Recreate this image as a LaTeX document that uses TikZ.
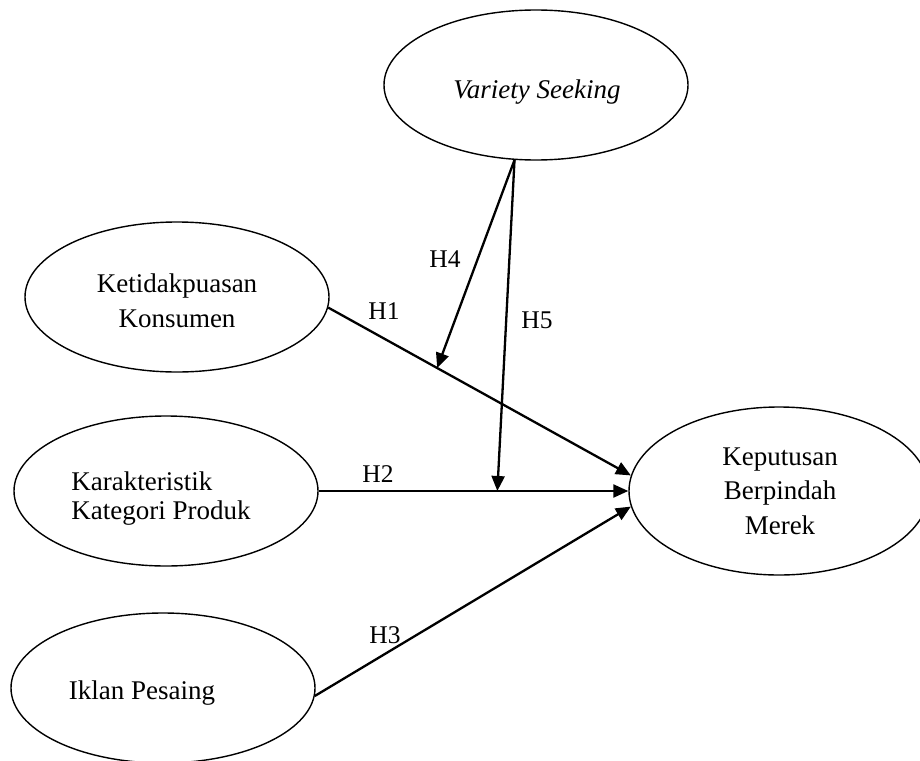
\documentclass[tikz,border=0pt]{standalone}
\usepackage{fontspec}
\setmainfont{Liberation Serif}
\usetikzlibrary{arrows.meta,calc,shapes.geometric}
\begin{document}
\begin{tikzpicture}[x=1pt,y=-1pt,
  oval/.style={draw,ellipse,line width=1.4pt,inner sep=0pt,minimum width=304pt,minimum height=150pt},
  txt/.style={inner sep=0pt,font=\fontsize{27}{34.5}\selectfont},
  lbl/.style={inner sep=0pt,anchor=base,font=\fontsize{25.5}{30}\selectfont},
  conn/.style={line width=2.3pt,-{Triangle[length=15pt,width=13pt]}}]
\useasboundingbox (0,0) rectangle (920,760);
% ellipses
\node[oval] (vs) at (536,85) {};
\node[oval] (ket) at (177,297) {};
\node[oval] (kar) at (166,491) {};
\node[oval] (ikl) at (163,688) {};
\node[oval,minimum width=300pt,minimum height=168pt] (kep) at (779,491) {};
% texts
\node[txt,anchor=base] (tvs) at (537,98) {\itshape Variety Seeking};
\node[txt,align=center] (tket) at (177,301) {Ketidakpuasan\\Konsumen};
\node[txt,align=left,font=\fontsize{27}{29}\selectfont] (tkar) at (161,499) {Karakteristik\\Kategori Produk};
\node[txt,anchor=base] (tikl) at (142,699) {Iklan Pesaing};
\node[txt,align=center] (tkep) at (780,491) {Keputusan\\Berpindah\\Merek};
% connectors
\coordinate (s1) at (ket.-4);
\coordinate (e1) at (kep.174);
\coordinate (s3) at (ikl.-3);
\coordinate (e3) at (kep.-174);
\coordinate (vsb) at (vs.-106);
\draw[conn] (s1) -- (e1);
\draw[conn] (kar.east) -- (kep.west);
\draw[conn] (s3) -- (e3);
\coordinate (h4end) at ($(s1)!0.36!(e1)$);
\coordinate (h5end) at ($(kar.east)!0.577!(kep.west)$);
\draw[conn] (vsb) -- (h4end);
\draw[conn] (vsb) -- (h5end);
% labels
\node[lbl] (l1) at (384,319) {H1};
\node[lbl] (l2) at (378,482) {H2};
\node[lbl] (l3) at (385,643) {H3};
\node[lbl] (l4) at (445,267) {H4};
\node[lbl] (l5) at (537,328) {H5};
\end{tikzpicture}
\end{document}
